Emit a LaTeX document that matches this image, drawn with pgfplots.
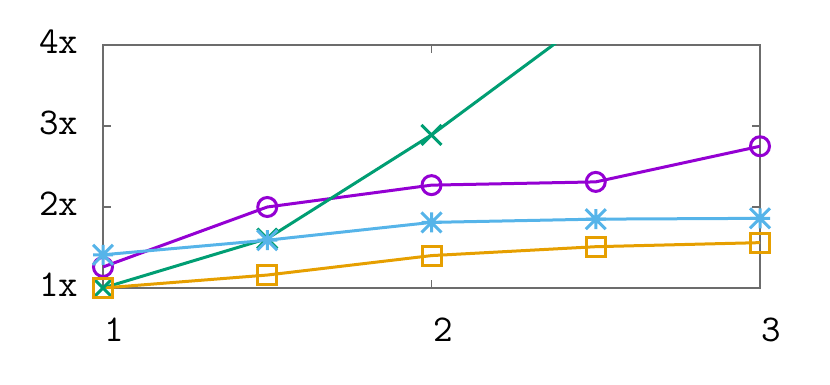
\documentclass[border=0pt]{standalone}
\usepackage{pgfplots}
\pgfplotsset{compat=1.18}
\usepackage{fontspec}
\definecolor{gpPurple}{HTML}{9400D3}
\definecolor{gpGreen}{HTML}{009E73}
\definecolor{gpBlue}{HTML}{56B4E9}
\definecolor{gpOrange}{HTML}{E69F00}
\pgfdeclareplotmark{gpstar}{%
  \pgfpathmoveto{\pgfqpoint{-\pgfplotmarksize}{0pt}}%
  \pgfpathlineto{\pgfqpoint{\pgfplotmarksize}{0pt}}%
  \pgfpathmoveto{\pgfqpoint{0pt}{-\pgfplotmarksize}}%
  \pgfpathlineto{\pgfqpoint{0pt}{\pgfplotmarksize}}%
  \pgfpathmoveto{\pgfqpoint{-\pgfplotmarksize}{-\pgfplotmarksize}}%
  \pgfpathlineto{\pgfqpoint{\pgfplotmarksize}{\pgfplotmarksize}}%
  \pgfpathmoveto{\pgfqpoint{-\pgfplotmarksize}{\pgfplotmarksize}}%
  \pgfpathlineto{\pgfqpoint{\pgfplotmarksize}{-\pgfplotmarksize}}%
  \pgfusepathqstroke}
\pgfdeclareplotmark{gpx}{%
  \pgfpathmoveto{\pgfqpoint{-\pgfplotmarksize}{-\pgfplotmarksize}}%
  \pgfpathlineto{\pgfqpoint{\pgfplotmarksize}{\pgfplotmarksize}}%
  \pgfpathmoveto{\pgfqpoint{-\pgfplotmarksize}{\pgfplotmarksize}}%
  \pgfpathlineto{\pgfqpoint{\pgfplotmarksize}{-\pgfplotmarksize}}%
  \pgfusepathqstroke}
\begin{document}
\begin{tikzpicture}[x=1bp,y=1bp]
\path[use as bounding box] (0,0) rectangle (830,384);
\begin{axis}[
  at={(103bp,96bp)}, anchor=south west,
  scale only axis, width=657bp, height=243bp,
  xmin=1, xmax=3, ymin=1, ymax=4,
  xtick={1,2,3}, ytick={1,2,3,4},
  xticklabel={\pgfmathprintnumber{\tick}},
  yticklabel={\pgfmathprintnumber{\tick}x},
  /pgf/number format/assume math mode=true,
  tick align=inside,
  major tick length=8bp,
  axis line style={draw=gray!85!black, line width=1.2bp},
  tick style={draw=gray!85!black, line width=1.2bp},
  ticklabel style={font=\ttfamily\fontsize{38}{42}\selectfont, text=black, inner sep=0pt, outer sep=0pt},
  xticklabel style={anchor=north, xshift=11.5bp, yshift=-30bp},
  yticklabel style={anchor=east, xshift=-25bp, yshift=3bp},
  every axis plot/.append style={line width=3bp},
  clip=true,
]
\addplot[color=gpPurple, mark=o, mark size=9.5bp, mark options={line width=3bp}]
  coordinates {(1,1.26) (1.5,2.0) (2,2.27) (2.5,2.31) (3,2.75)};
\addplot[color=gpGreen, mark=gpx, mark size=10bp, mark options={line width=3bp}]
  coordinates {(1,1.0) (1.5,1.61) (2,2.89) (2.5,4.39)};
\addplot[color=gpBlue, mark=gpstar, mark size=10bp, mark options={line width=3bp}]
  coordinates {(1,1.41) (1.5,1.59) (2,1.81) (2.5,1.85) (3,1.86)};
\addplot[color=gpOrange, mark=square, mark size=9.5bp, mark options={line width=3bp}]
  coordinates {(1,1.0) (1.5,1.16) (2,1.40) (2.5,1.51) (3,1.56)};
\end{axis}
\end{tikzpicture}
\end{document}
